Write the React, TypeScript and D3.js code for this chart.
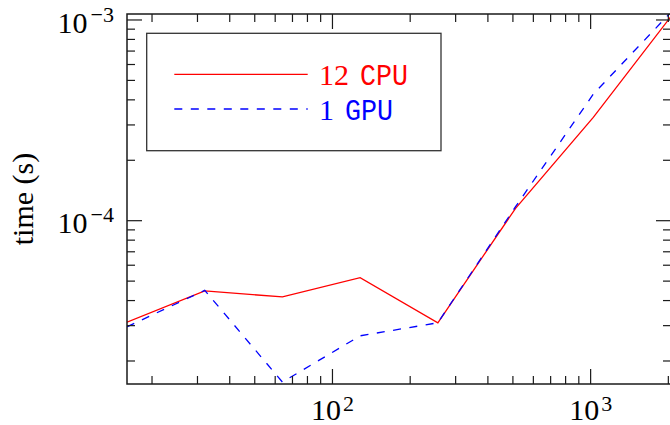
import React from 'react';
import * as d3 from 'd3';

const sizes = [16, 32, 64, 128, 256, 512, 1024, 2048];
const cpuTimes = [3.12e-5, 4.47e-5, 4.17e-5, 5.2e-5, 3.1e-5, 1.153e-4, 3.27e-4, 1.042e-3];
const gpuTimes = [2.96e-5, 4.5e-5, 1.57e-5, 2.67e-5, 3.1e-5, 1.174e-4, 4.27e-4, 1.094e-3];
const seriesNums = ['12', '1'];
const seriesUnits = ['CPU', 'GPU'];
const seriesColors = ['#ff0000', '#0000ff'];
const xDomain = [16, 2048];
const yDomain = [1.536e-5, 1.071e-3];
const yLabel = 'time (s)';

const W = 670;
const H = 425;
const L = 127, R = 671, T = 14, B = 384;
const serif = '"Liberation Serif", "Times New Roman", serif';
const mono = '"Liberation Mono", "Courier New", monospace';
const axisColor = '#1a1a1a';

export default function App() {
  const x = d3.scaleLog().domain(xDomain).range([L, R]);
  const y = d3.scaleLog().domain(yDomain).range([B, T]);
  const isMajor = (v: number) => Math.abs(Math.log10(v) - Math.round(Math.log10(v))) < 1e-9;
  const xt = x.ticks();
  const yt = y.ticks();
  const line = d3.line<number>().x((_, i) => x(sizes[i])).y((d) => y(d));
  const series = [cpuTimes, gpuTimes];

  return (
    <svg width={W} height={H} style={{ position: 'absolute', left: 0, top: 0, background: '#fff' }}>
      <defs>
        <clipPath id="plot">
          <rect x={L} y={T} width={R - L} height={B - T} />
        </clipPath>
      </defs>
      <rect x={0} y={0} width={W} height={H} fill="#fff" />
      <g clipPath="url(#plot)">
        {series.map((s, i) => (
          <path
            key={i}
            d={line(s) || ''}
            fill="none"
            stroke={seriesColors[i]}
            strokeWidth={1.3}
            strokeDasharray={i === 1 ? '8,8.5' : undefined}
          />
        ))}
      </g>
      {/* ticks */}
      <g stroke={axisColor} strokeWidth={1.2}>
        {xt.map((v, i) => {
          const len = isMajor(v) ? 15 : 8;
          const px = x(v);
          return (
            <g key={'x' + i}>
              <line x1={px} x2={px} y1={B} y2={B - len} />
              <line x1={px} x2={px} y1={T} y2={T + len} />
            </g>
          );
        })}
        {yt.map((v, i) => {
          const len = isMajor(v) ? 15 : 8;
          const py = y(v);
          return (
            <g key={'y' + i}>
              <line x1={L} x2={L + len} y1={py} y2={py} />
              <line x1={R} x2={R - len} y1={py} y2={py} />
            </g>
          );
        })}
      </g>
      <rect x={L} y={T} width={R - L} height={B - T} fill="none" stroke={axisColor} strokeWidth={1.5} />
      {/* x tick labels */}
      {xt.filter(isMajor).map((v, i) => (
        <text key={'xl' + i} x={x(v)} y={420} textAnchor="middle" fontFamily={serif} fontSize={30} fill="#000">
          10
          <tspan fontSize={22} dx={2} dy={-9}>{String(Math.round(Math.log10(v)))}</tspan>
        </text>
      ))}
      {/* y tick labels */}
      {yt.filter(isMajor).map((v, i) => (
        <text key={'yl' + i} x={114} y={y(v) + 12.8} textAnchor="end" fontFamily={serif} fontSize={30} fill="#000">
          10
          <tspan fontSize={22} dx={3} dy={-11}>{'\u2212' + String(Math.abs(Math.round(Math.log10(v))))}</tspan>
        </text>
      ))}
      {/* y axis label */}
      <text
        transform={`translate(33, ${(T + B) / 2}) rotate(-90)`}
        textAnchor="middle"
        fontFamily={serif}
        fontSize={30}
        fill="#000"
      >
        {yLabel}
      </text>
      {/* legend */}
      <rect x={146.7} y={33.3} width={294.3} height={117.4} fill="#fff" stroke="#333" strokeWidth={1.3} />
      {seriesNums.map((n, i) => {
        const ly = 74.3 + i * 34.7;
        return (
          <g key={'lg' + i}>
            <line
              x1={174.3}
              x2={307.7}
              y1={ly}
              y2={ly}
              stroke={seriesColors[i]}
              strokeWidth={1.3}
              strokeDasharray={i === 1 ? '8,8.5' : undefined}
            />
            <text x={319} y={ly + 10.7} fill={seriesColors[i]} fontSize={30}>
              <tspan fontFamily={serif}>{n}</tspan>
              <tspan fontFamily={mono} dx={11} textLength={48} lengthAdjust="spacingAndGlyphs">
                {seriesUnits[i]}
              </tspan>
            </text>
          </g>
        );
      })}
    </svg>
  );
}
